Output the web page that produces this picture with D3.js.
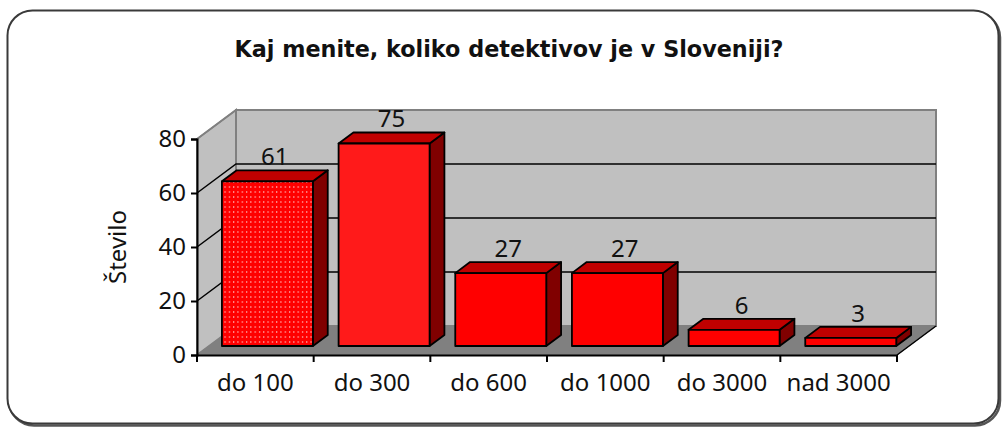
<!DOCTYPE html>
<html><head><meta charset="utf-8">
<script src="https://cdn.jsdelivr.net/npm/d3@7"></script>
<style>body{margin:0;background:#fff}svg{display:block}</style>
</head><body>
<script>
const categories = ["do 100","do 300","do 600","do 1000","do 3000","nad 3000"];
const values = [61,75,27,27,6,3];
const yTicks = [0,20,40,60,80];
const title = "Kaj menite, koliko detektivov je v Sloveniji?";
const yTitle = "Število";

const W=1003,H=428;
const svg=d3.select("body").append("svg").attr("width",W).attr("height",H);
const defs=svg.append("defs");
const pat=defs.append("pattern").attr("id","dots").attr("patternUnits","userSpaceOnUse").attr("width",4.3).attr("height",5);
pat.append("rect").attr("width",4.3).attr("height",5).attr("fill","#ff0000");
pat.append("rect").attr("x",1).attr("y",1).attr("width",1).attr("height",2).attr("fill","#ffa0a0");

// frame
svg.append("rect").attr("x",9).attr("y",12.5).attr("width",991).attr("height",413).attr("rx",25)
  .attr("fill","none").attr("stroke","#555").attr("stroke-width",2.5);
svg.append("rect").attr("x",7.5).attr("y",10.5).attr("width",991).attr("height",413).attr("rx",25)
  .attr("fill","#fff").attr("stroke","#3a3a3a").attr("stroke-width",2);

const font="'Noto Sans', sans-serif";
svg.append("text").attr("x",509).attr("y",57).attr("text-anchor","middle")
  .attr("font-family","'DejaVu Sans',sans-serif").attr("font-weight","bold")
  .attr("font-size",22.3).attr("fill","#111").text(title);

const x0=197,x1=897,DX=39,DY=-29;
const y=d3.scaleLinear().domain([0,80]).range([355,139]);
const x=d3.scaleBand().domain(categories).range([x0,x1]).paddingInner(0.22).paddingOuter(0.11);
const step=x.step();

const g=svg.append("g");
const pts=a=>a.map(p=>p.join(",")).join(" ");
// walls
g.append("polygon").attr("points",pts([[x0+DX,y(80)+DY],[x1+DX,y(80)+DY],[x1+DX,y(0)+DY],[x0+DX,y(0)+DY]]))
  .attr("fill","#c0c0c0").attr("stroke","#808080").attr("stroke-width",2);
g.append("polygon").attr("points",pts([[x0,y(80)],[x0+DX,y(80)+DY],[x0+DX,y(0)+DY],[x0,y(0)]]))
  .attr("fill","#c0c0c0").attr("stroke","#808080").attr("stroke-width",2);
g.append("polygon").attr("points",pts([[x0,y(0)],[x0+DX,y(0)+DY],[x1+DX,y(0)+DY],[x1,y(0)]]))
  .attr("fill","#808080").attr("stroke","#808080").attr("stroke-width",1);
// gridlines
yTicks.filter(v=>v>0&&v<80).forEach(v=>{
  g.append("polyline").attr("points",pts([[x0,y(v)],[x0+DX,y(v)+DY],[x1+DX,y(v)+DY]]))
   .attr("fill","none").attr("stroke","#000").attr("stroke-width",1.5);
});
g.append("line").attr("x1",x0).attr("y1",y(80)).attr("x2",x0+DX).attr("y2",y(80)+DY).attr("stroke","#808080").attr("stroke-width",1.5);
g.append("line").attr("x1",x1).attr("y1",y(0)).attr("x2",x1+DX).attr("y2",y(0)+DY).attr("stroke","#000").attr("stroke-width",1.5);

// bars
const f0=0.31, dd=0.38;
const fills=["url(#dots)","#ff1a1a","#ff0000","#ff0000","#ff0000","#ff0000"];
categories.forEach((c,i)=>{
  const v=values[i];
  const bx0=x(c)+f0*DX, bx1=bx0+x.bandwidth();
  const yt=y(v)+f0*DY, yb=y(0)+f0*DY;
  const ddx=dd*DX, ddy=dd*DY;
  const bg=g.append("g").attr("stroke","#000").attr("stroke-width",1.8).attr("stroke-linejoin","round");
  bg.append("polygon").attr("points",pts([[bx1,yt],[bx1+ddx,yt+ddy],[bx1+ddx,yb+ddy],[bx1,yb]])).attr("fill","#800000");
  bg.append("polygon").attr("points",pts([[bx0,yt],[bx1,yt],[bx1+ddx,yt+ddy],[bx0+ddx,yt+ddy]])).attr("fill","#c00000");
  bg.append("rect").attr("x",bx0).attr("y",yt).attr("width",bx1-bx0).attr("height",yb-yt).attr("fill",fills[i]);
  g.append("text").attr("x",(bx0+bx1)/2+ddx/2).attr("y",yt+ddy-5).attr("text-anchor","middle")
   .attr("font-family",font).attr("font-size",24).attr("fill","#111").text(v);
});

// y axis
const ya=g.append("g").attr("transform",`translate(${x0},0)`)
  .call(d3.axisLeft(y).tickValues(yTicks).tickSize(6).tickPadding(5).tickFormat(d3.format("d")));
ya.select(".domain").attr("stroke","#000").attr("stroke-width",2);
ya.selectAll(".tick line").attr("stroke","#000").attr("stroke-width",2);
ya.selectAll(".tick text").attr("font-family",font).attr("font-size",24).attr("fill","#111").attr("dy","0.32em");

// x axis
const xa=g.append("g").attr("transform",`translate(0,${y(0)})`)
  .call(d3.axisBottom(x).tickSize(0).tickPadding(19));
xa.select(".domain").attr("stroke","#000").attr("stroke-width",2);
xa.selectAll(".tick text").attr("font-family",font).attr("font-size",24).attr("fill","#111");
d3.range(categories.length+1).forEach(k=>{
  xa.append("line").attr("x1",x0+k*step).attr("x2",x0+k*step).attr("y1",0).attr("y2",7).attr("stroke","#000").attr("stroke-width",2);
});

svg.append("text").attr("transform","translate(126,247) rotate(-90)").attr("text-anchor","middle")
  .attr("font-family",font).attr("font-size",24).attr("fill","#111").text(yTitle);
</script>
</body></html>
